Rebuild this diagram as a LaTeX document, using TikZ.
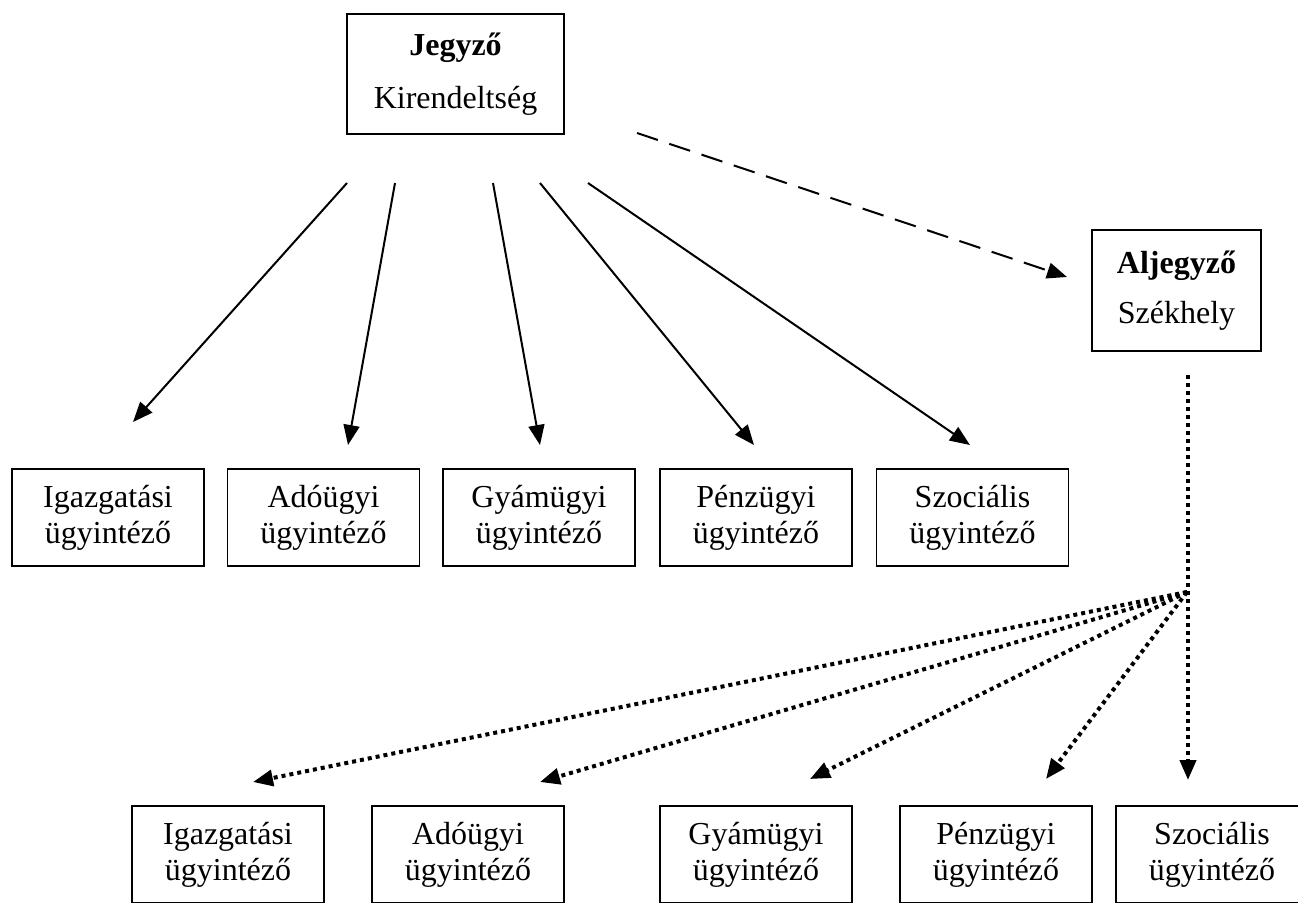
\documentclass[tikz,border=0pt]{standalone}
\usepackage{fontspec}
\setmainfont{Liberation Serif}
\usetikzlibrary{arrows.meta}
\tikzset{box/.style={draw, line width=0.9pt, align=center, inner sep=0pt,
      minimum width=96pt, minimum height=48.5pt, font=\fontsize{16}{18}\selectfont}}
\tikzset{tip/.style={-{Triangle[length=10pt,width=8pt]}}}
\tikzset{longdash/.style={tip, dash pattern=on 11pt off 6pt}}
\tikzset{dots/.style={tip, line width=2pt, dash pattern=on 2pt off 2pt}}

\begin{document}
\begin{tikzpicture}[x=0.5pt, y=-0.5pt, line width=1pt]
		\useasboundingbox (0,0) rectangle (1298,902);
		\node[box, minimum width=108.5pt, minimum height=60pt] (jegyzo) at (455.5,74) {\textbf{Jegyző}\\[8.5pt]Kirendeltség};
		\node[box, minimum width=84.5pt, minimum height=60.5pt] (aljegyzo) at (1176.5,290.5) {\textbf{Aljegyző}\\[7pt]Székhely};
		\foreach \n/\x/\t in {1/108/Igazgatási, 2/323.5/Adóügyi, 3/539/Gyámügyi, 4/756/Pénzügyi, 5/972.5/Szociális}
			\node[box] (k\n) at (\x,517.5) {\t\\ügyintéző};
		\foreach \n/\x/\t in {1/228/Igazgatási, 2/468/Adóügyi, 3/756/Gyámügyi, 4/996/Pénzügyi, 5/1212/Szociális}
			\node[box] (sz\n) at (\x,854.5) {\t\\ügyintéző};
		\foreach \n/\sx/\ex/\ey in {1/347/133/422, 2/395/348/445, 3/493/540/445, 4/540/754/445, 5/588/970/445} {
			\coordinate (ks\n) at (\sx,183);
			\coordinate (ke\n) at (\ex,\ey);
			\draw[tip] (ks\n) -- (ke\n);
		}
		\coordinate (js) at (637,133);
		\coordinate (ae) at (1067,277);
		\draw[longdash] (js) -- (ae);
		\coordinate (as) at (1188,375);
		\coordinate (fan) at (1187,592);
		\coordinate (sze5) at (1188,780);
		\draw[dots] (as) -- (sze5);
		\foreach \n/\ex/\ey in {1/253/782, 2/540/782, 3/810/779, 4/1046/779} {
			\coordinate (sze\n) at (\ex,\ey);
			\draw[dots] (fan) -- (sze\n);
		}
\end{tikzpicture}
\end{document}
